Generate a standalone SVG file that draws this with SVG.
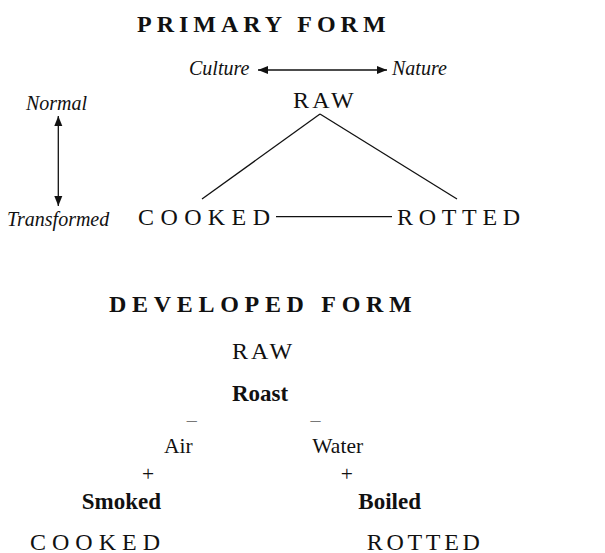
<svg xmlns="http://www.w3.org/2000/svg" width="605" height="553" viewBox="0 0 605 553">
<style>
text{font-family:"Liberation Serif","Times New Roman",serif;fill:#111}
.h{font-weight:bold;font-size:24px}
.cap{font-size:24px}
.it{font-style:italic;font-size:20px}
.b{font-weight:bold;font-size:23px}
.r{font-size:21.5px}
.dash{font-size:20px;fill:#777}
.ln{stroke:#111;stroke-width:1.3;fill:none}
</style>
<defs>
<marker id="ah" viewBox="0 0 10 10" refX="10" refY="5" markerWidth="10" markerHeight="10" markerUnits="userSpaceOnUse" orient="auto-start-reverse">
<path d="M0,1 L10,5 L0,9 Z" fill="#111"/>
</marker>
</defs>
<rect width="605" height="553" fill="#fff"/>
<g id="title-primary"><text class="h" x="137" y="32" letter-spacing="5">PRIMARY FORM</text></g>
<g id="culture"><text class="it" x="189" y="75">Culture</text></g>
<g id="nature"><text class="it" x="392" y="75">Nature</text></g>
<g id="normal"><text class="it" x="26" y="110" font-size="21">Normal</text></g>
<g id="transformed"><text class="it" x="7" y="226">Transformed</text></g>
<g id="raw1"><text class="cap" x="293" y="108" font-size="22" letter-spacing="3.3">RAW</text></g>
<g id="cooked1"><text class="cap" x="138" y="225" letter-spacing="6.4">COOKED</text></g>
<g id="rotted1"><text class="cap" x="397" y="225" letter-spacing="5.7">ROTTED</text></g>
<g id="connectors">
<line class="ln" x1="258" y1="70" x2="387" y2="70" marker-start="url(#ah)" marker-end="url(#ah)"/>
<line class="ln" x1="58.3" y1="116" x2="58.3" y2="206" marker-start="url(#ah)" marker-end="url(#ah)"/>
<line class="ln" x1="320" y1="114" x2="202" y2="199"/>
<line class="ln" x1="320" y1="114" x2="457" y2="199"/>
<line class="ln" x1="276" y1="216.7" x2="392" y2="216.7"/>
</g>
<g id="title-developed"><text class="h" x="109" y="312" letter-spacing="5.7">DEVELOPED FORM</text></g>
<g id="raw2"><text class="cap" x="232" y="359" font-size="21" letter-spacing="3">RAW</text></g>
<g id="roast"><text class="b" x="232" y="401">Roast</text></g>
<g id="air"><text class="dash" x="191.7" y="427" text-anchor="middle">–</text><text class="r" x="164" y="453">Air</text><text class="r" x="148" y="481" font-size="22" text-anchor="middle">+</text></g>
<g id="water"><text class="dash" x="315.5" y="427" text-anchor="middle">–</text><text class="r" x="312.3" y="453">Water</text><text class="r" x="346.7" y="481" font-size="22" text-anchor="middle">+</text></g>
<g id="smoked"><text class="b" x="81.7" y="509.3">Smoked</text></g>
<g id="boiled"><text class="b" x="358.3" y="509.3">Boiled</text></g>
<g id="cooked2"><text class="cap" x="30" y="549.5" letter-spacing="6">COOKED</text></g>
<g id="rotted2"><text class="cap" x="366.7" y="549.5" letter-spacing="3.7">ROTTED</text></g>
</svg>
